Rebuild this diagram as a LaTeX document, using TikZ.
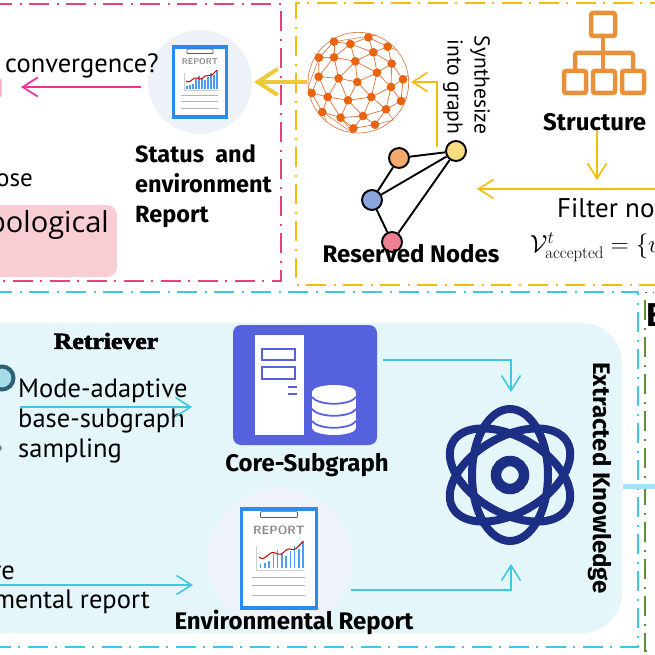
\documentclass[tikz,border=0pt]{standalone}
\usepackage{fontspec}
\setmainfont{Latin Modern Roman}
\newfontfamily\hand{PT Sans}
\newfontfamily\din{Fira Sans}[BoldFont={Fira Sans Bold}]
\newfontfamily\plain{Open Sans}
\newfontfamily\black{Liberation Serif}[BoldFeatures={FakeBold=2.8,FakeStretch=1.12}]
\usetikzlibrary{arrows.meta}
\definecolor{cpink}{HTML}{E8407F}
\definecolor{cyel}{HTML}{F5BB0A}
\definecolor{ccy}{HTML}{3FC8E2}
\definecolor{cgreen}{HTML}{5E9230}
\definecolor{cbg}{HTML}{E5F6FA}
\definecolor{cblue}{HTML}{2A8CF0}
\definecolor{cidx}{HTML}{5561DD}
\definecolor{cnavy}{HTML}{1D2F85}
\definecolor{corg}{HTML}{E8913A}
\definecolor{cwire}{HTML}{DD8050}
\definecolor{cdot}{HTML}{E8640F}
\tikzset{
 x=1pt,y=-1pt,
 frame/.style={line width=1.5pt,dash pattern=on 20pt off 8pt on 2pt off 7pt},
 lab/.style={font=\din\bfseries\fontsize{24}{24}\selectfont,inner sep=0pt,anchor=west,text=black},
 hw/.style={font=\hand\fontsize{26.5}{26.5}\selectfont,inner sep=0pt,text=black},
 barb/.style={-{Straight Barb[length=15pt,width=19pt,line width=#1]}},
 pinkline/.style={draw=cpink!80!magenta,line width=1.8pt,barb=1.8pt},
 yelline/.style={draw=cyel,line width=1.6pt,barb=1.6pt},
 cyline/.style={draw=ccy,line width=1.6pt,barb=1.6pt},
 gnode/.style={circle,draw=black,line width=1.9pt,minimum width=20pt,inner sep=0pt},
 gedge/.style={draw=black,line width=1.9pt},
 clipboard/.pic={
  \path[draw=cblue,fill=white,line width=3.6pt] (-26.5,-35) rectangle (26.5,35);
  \path[draw=black!65,line width=.7pt,rounded corners=1pt] (-13,-29) -- (-13,-33) -- (13,-33) -- (13,-29);
  \path[draw=black!65,line width=.7pt] (-13,-29) -- (13,-29);
  \node[font=\sffamily\bfseries\fontsize{8.5}{8.5}\selectfont,text=black!45,inner sep=0pt,transform shape] at (0,-20) {REPORT};
  \foreach \a/\h in {-13/3,-10/4,-7/5,-4/10,-1/13,2/10,5/9,8/12,11/16,14/14,17/19}
   \path[draw=cblue!85,line width=1.6pt] (\a,7) -- (\a,7-\h);
  \path[draw=black!20,line width=.5pt] (-16,-9) -- (-16,8) -- (18,8);
  \path[draw=red!75!black,line width=1pt] (-14,-1) .. controls (-10,3) and (-7,-6) .. (-3,-4) .. controls (1,-2) and (2,-3) .. (5,-6) .. controls (8,-8) and (9,-5) .. (12,-7) -- (17,-12);
  \foreach \b in {13,19,26}
   \path[draw=black!30,line width=.8pt] (-19,\b) -- (18,\b);
 }
}
\begin{document}
\begin{tikzpicture}
\path[use as bounding box,clip] (0,0) rectangle (655,655);
\fill[white] (0,0) rectangle (655,655);

% frames
\draw[frame,cpink] (-8,4) -- (281,4) -- (281,281) -- (-8,281);
\draw[frame,cyel] (670,3) -- (296,3) -- (296,285) -- (670,285);
\draw[frame,cgreen] (645,300) -- (645,651) -- (670,651);
\draw[frame,ccy] (-8,292) -- (638,292) -- (638,647) -- (-8,647);
\draw[line width=1pt,black!60,dash pattern=on 1.5pt off 6pt] (645,292) -- (660,292);

% top-left panel
\definecolor{ccirc}{HTML}{EDF2F8}
\node[circle,fill=ccirc,minimum width=104pt,inner sep=0pt] (repTop) at (200,82) {};
\pic at (200,82) {clipboard};
\fill[cpink!45,rounded corners=1pt] (-4,79) rectangle (1.5,97);
\node[hw,anchor=west] (conv) at (5,66) {convergence?};
\node[hw,anchor=east,font=\hand\fontsize{25}{25}\selectfont] (ose) at (33,180) {ose};
\definecolor{cbox}{HTML}{F8CDD3}
\fill[cbox,rounded corners=10pt] (-20,205) rectangle (117,277);
\node[inner sep=0pt,anchor=east,font=\plain\fontsize{29}{29}\selectfont] (topo) at (109,225) {pological};
\node[lab,anchor=base west,font=\din\bfseries\fontsize{23.5}{24}\selectfont] (st1) at (135,163) {Status\ \ and};
\node[lab,anchor=base west,font=\din\bfseries\fontsize{23.5}{24}\selectfont] (st2) at (135,192) {environment};
\node[lab,anchor=base west,font=\din\bfseries\fontsize{23.5}{24}\selectfont] (st3) at (135,222) {Report};
\coordinate (pinkS) at (141,87);
\coordinate (pinkE) at (21,87);
\draw[pinkline] (pinkS) -- (pinkE);

% sphere
\begin{scope}[shift={(290pt,0pt)},x=.33333pt,y=-.33333pt]
\draw[draw=cwire,line width=.7pt] (205,248) circle[radius=151];
\foreach \n/\p/\q in {1/132/125,2/181/132,3/235/112,4/293/140,5/87/173,6/132/172,7/196/184,8/250/157,9/305/191,10/86/230,11/146/235,12/202/246,13/261/218,14/339/238,15/65/279,16/113/291,17/174/301,18/244/291,19/303/261,20/333/303,21/97/336,22/152/353,23/219/348,24/288/328,25/190/385,26/255/374}
 \coordinate (s\n) at (\p,\q);
\coordinate (r1) at (185,98);\coordinate (r2) at (260,105);\coordinate (r3) at (320,150);\coordinate (r4) at (355,225);\coordinate (r5) at (350,290);\coordinate (r6) at (310,360);\coordinate (r7) at (190,400);\coordinate (r8) at (110,365);\coordinate (r9) at (55,260);\coordinate (r10) at (75,160);\coordinate (r11) at (125,110);
\foreach \a/\b in {1/2,2/3,3/4,1/5,1/6,2/6,2/7,2/8,3/8,4/8,4/9,5/6,5/10,6/7,6/10,6/11,7/8,7/11,7/12,7/13,8/13,8/9,9/13,9/14,10/11,10/15,10/16,11/12,11/16,11/17,12/13,12/17,12/18,13/18,13/19,9/19,14/19,14/20,19/20,19/18,19/24,18/24,18/17,18/23,17/16,17/22,17/23,15/16,15/21,16/21,16/22,21/22,22/23,22/25,23/25,23/26,24/26,24/23,20/24,25/26}
 \draw[cwire,line width=.8pt] (s\a) -- (s\b);
\foreach \a/\b in {1/2,3/2,4/3,14/4,20/5,24/6,26/6,25/7,21/8,15/9,5/10,1/11,5/9,21/7,22/7}
 \draw[cwire,line width=.6pt] (s\a) -- (r\b);
\foreach \n in {1,...,26}
 \fill[cdot] (s\n) circle[radius=13];
\end{scope}

% thick arrow into report
\definecolor{cthick}{HTML}{EBCB3C}
\coordinate (thickS) at (307,82);
\coordinate (thickE) at (254,82);
\draw[draw=cthick,line width=4pt,-{Straight Barb[length=20pt,width=26pt,line width=4pt]}] (thickS) -- (thickE);

% reserved nodes
\definecolor{nyc}{HTML}{F9DC80}
\definecolor{noc}{HTML}{F4A96C}
\definecolor{nbc}{HTML}{8AA4DC}
\definecolor{npc}{HTML}{EE8094}
\node[gnode,fill=nyc] (ny) at (456,151) {};
\node[gnode,fill=noc] (no) at (399,158) {};
\node[gnode,fill=nbc] (nb) at (372,200) {};
\node[gnode,fill=npc] (np) at (392,242) {};
\draw[gedge] (no) -- (ny) (no) -- (nb) (nb) -- (ny) (nb) -- (np) (np) -- (ny);
\node[lab,anchor=center] (resv) at (411,254) {Reserved Nodes};

\coordinate (synS) at (437,147);
\coordinate (synE) at (411,82);
\draw[yelline] (synS) |- (synE);
\node[hw,rotate=-90,font=\hand\fontsize{21.5}{21.5}\selectfont] (syn1) at (480,85) {Synthesize};
\node[hw,rotate=-90,font=\hand\fontsize{21.5}{21.5}\selectfont] (syn2) at (453,87) {into graph};

% structure icon
\begin{scope}[draw=corg,line width=4.5pt,rounded corners=2pt]
\draw (591,13) rectangle (615,36);
\draw (564,71) rectangle (586,93);
\draw (593,71) rectangle (615,93);
\draw (622,71) rectangle (644,93);
\draw (603,36) -- (603,71);
\draw (575,71) -- (575,53) -- (633,53) -- (633,71);
\end{scope}
\node[lab] (struct) at (543,122) {Structure};
\coordinate (stS) at (597,130);
\coordinate (stE) at (597,180);
\draw[yelline] (stS) -- (stE);
\coordinate (filtS) at (660,189);
\coordinate (filtE) at (477,189);
\draw[yelline] (filtS) -- (filtE);
\node[inner sep=0pt,anchor=west,font=\hand\fontsize{27}{27}\selectfont] (filt) at (557,208) {Filter no};
\node[inner sep=0pt,anchor=west,font=\fontsize{24}{24}\selectfont] (math) at (530,247) {$\mathcal{V}^{t}_{\mathrm{accepted}}=\{v$};

% bottom panel
\fill[cbg,rounded corners=40pt] (-60,323) rectangle (622,633);
\draw[draw=cyan!35!white,line width=5pt] (623,486) -- (660,486);
\node[inner sep=0pt,anchor=west,font=\din\bfseries\fontsize{33}{33}\selectfont] (eLet) at (646,315) {E};

\node[inner sep=0pt,font=\black\bfseries\fontsize{23}{23}\selectfont] (retr) at (106,341) {Retriever};
\definecolor{cring}{HTML}{2D5F73}
\definecolor{cringf}{HTML}{A5DCE8}
\node[circle,draw=cring,fill=cringf,line width=4pt,minimum width=23pt,inner sep=0pt] (ring) at (2,378) {};
\node[circle,fill=cring!70,minimum width=6pt,inner sep=0pt] (dot) at (-1,448) {};
\node[hw,anchor=west] (m1) at (18,391) {Mode-adaptive};
\node[hw,anchor=west] (m2) at (18,421) {base-subgraph};
\node[hw,anchor=west] (m3) at (18,451) {sampling};
\coordinate (modeS) at (20,407);
\coordinate (modeE) at (192,407);
\draw[cyline] (modeS) -- (modeE);

\node[hw,anchor=east] (re) at (15,573) {re};
\node[hw,anchor=east] (mr) at (150,602) {mental report};
\coordinate (envS) at (-5,585);
\coordinate (envE) at (193,585);
\draw[cyline] (envS) -- (envE);

% server
\fill[cidx,rounded corners=8pt] (233,325) rectangle (377,445);
\fill[white] (255,335) rectangle (304,435);
\draw[cidx,line width=2.5pt] (262,349) rectangle (295,360) (262,367) rectangle (295,379);
\draw[cidx,line width=2pt] (288,387) -- (297,387) (288,394) -- (297,394);
\fill[white] (334,392) ellipse[x radius=22,y radius=7];
\fill[white] (334,428) ellipse[x radius=22,y radius=7];
\fill[white] (312,392) rectangle (356,428);
\foreach \yy in {397,409,421}
 \draw[cidx,line width=1.8pt] (312,\yy) .. controls (318,\yy+9) and (350,\yy+9) .. (356,\yy);
\node[lab,anchor=center,font=\din\bfseries\fontsize{24}{24}\selectfont] (core) at (307,465) {Core-Subgraph};

% bottom report
\definecolor{ccirb}{HTML}{EEF3FB}
\node[circle,fill=ccirb,minimum width=144pt,inner sep=0pt] (repBot) at (280,560) {};
\pic[scale=1.42,transform shape] at (279,558.5) {clipboard};
\node[lab,anchor=center] (envT) at (294,622) {Environmental Report};

% atom
\begin{scope}[shift={(510,475)}]
\foreach \r in {90,30,-30}
 \draw[cnavy,line width=8pt,rotate=\r] (0,0) ellipse[x radius=66,y radius=38];
\draw[cnavy,line width=10.5pt] (0,0) circle[radius=14];
\coordinate (atomC) at (0,0);
\end{scope}
\coordinate (a1) at (383,360);
\coordinate (a2) at (511,392);
\draw[cyline] (a1) -| (a2);
\coordinate (b1) at (351,590);
\coordinate (b2) at (511,564);
\draw[cyline] (b1) -| (b2);
\node[lab,anchor=center,rotate=-90] (ext) at (600,478) {Extracted Knowledge};
\end{tikzpicture}
\end{document}
